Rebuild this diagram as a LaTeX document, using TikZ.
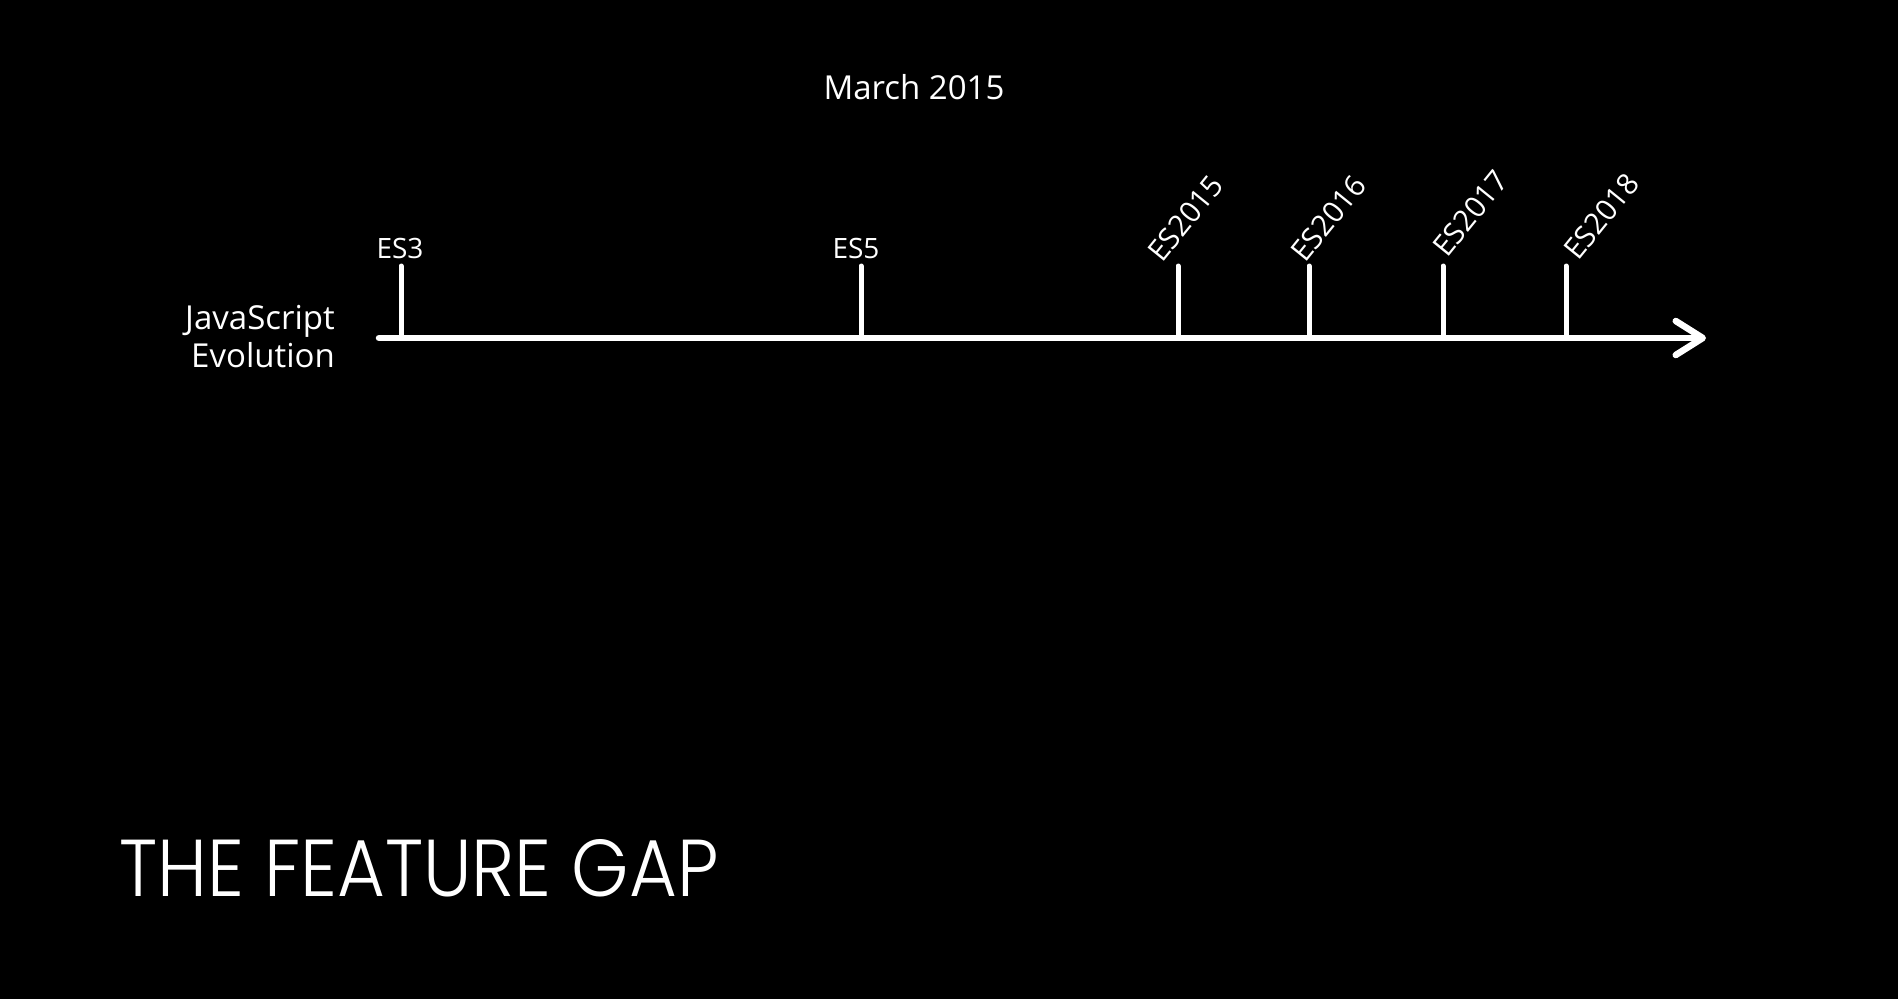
\documentclass[tikz,border=0pt]{standalone}
\usepackage{graphicx}
\usepackage{fontspec}
\setmainfont{Open Sans}
\newfontfamily\titlefont{Poppins Light}
\usetikzlibrary{arrows.meta}
\begin{document}
\begin{tikzpicture}[x=1pt,y=-1pt,
  every node/.style={text=white, inner sep=0pt},
  axisline/.style={draw=white, line width=6.5pt, line cap=round},
  tickline/.style={draw=white, line width=5pt, line cap=round},
  ticklabel/.style={font=\fontsize{28}{34}\selectfont},
  lanelabel/.style={font=\fontsize{33}{40}\selectfont, anchor=base east},
  rotlabel/.style={font=\fontsize{29.5}{34}\selectfont, anchor=base west, rotate=51}]
\fill[black] (0,0) rectangle (1898,999);
\useasboundingbox (0,0) rectangle (1898,999);
% header
\node[anchor=base, font=\fontsize{33}{40}\selectfont] (date) at (914,99) {March 2015};
% lane label
\node[lanelabel] (lane1) at (335,329) {JavaScript};
\node[lanelabel] (lane2) at (335,367) {Evolution};
% axis
\coordinate (axstart) at (379,338);
\coordinate (axend) at (1706,338);
\draw[axisline, -{Straight Barb[length=27pt,width=34pt,line cap=round,line join=round]}] (axstart) -- (axend);
% ticks
\foreach \n/\x in {es3/401, es5/861, a/1178, b/1309, c/1443, d/1566}{
  \coordinate (\n bot) at (\x,338);
  \coordinate (\n top) at (\x,266);
  \draw[tickline] (\n bot) -- (\n top);
}
\node[ticklabel, anchor=base] (les3) at (400,258) {ES3};
\node[ticklabel, anchor=base] (les5) at (856,258) {ES5};
\node[rotlabel] (la) at (1162,264) {ES2015};
\node[rotlabel] (lb) at (1305,264) {ES2016};
\node[rotlabel] (lc) at (1447,259) {ES2017};
\node[rotlabel] (ld) at (1578,262) {ES2018};
% title
\node[anchor=base west] (title) at (119,896) {\resizebox{599pt}{57pt}{\titlefont THE FEATURE GAP}};
\end{tikzpicture}
\end{document}
